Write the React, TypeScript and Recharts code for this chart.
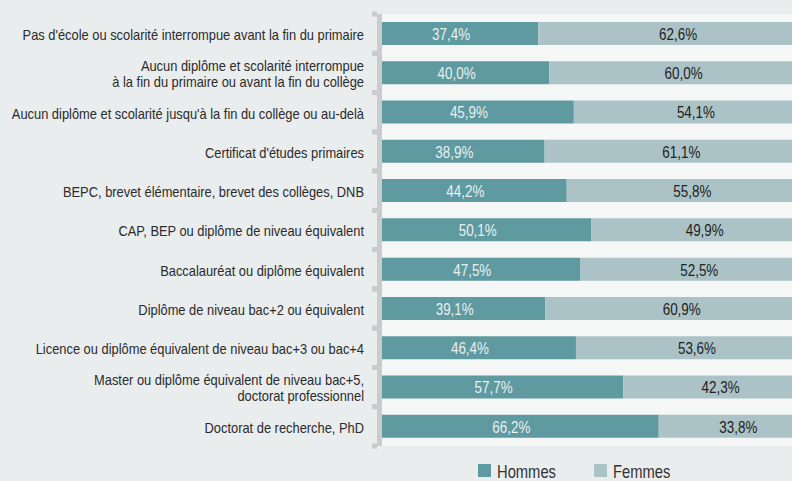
import React from 'react';
import { BarChart, Bar, XAxis, YAxis, CartesianGrid, LabelList } from 'recharts';

const categories = [
  "Pas d'école ou scolarité interrompue avant la fin du primaire",
  "Aucun diplôme et scolarité interrompue\nà la fin du primaire ou avant la fin du collège",
  "Aucun diplôme et scolarité jusqu'à la fin du collège ou au-delà",
  "Certificat d'études primaires",
  "BEPC, brevet élémentaire, brevet des collèges, DNB",
  "CAP, BEP ou diplôme de niveau équivalent",
  "Baccalauréat ou diplôme équivalent",
  "Diplôme de niveau bac+2 ou équivalent",
  "Licence ou diplôme équivalent de niveau bac+3 ou bac+4",
  "Master ou diplôme équivalent de niveau bac+5,\ndoctorat professionnel",
  "Doctorat de recherche, PhD",
];
const hommes = [37.4, 40.0, 45.9, 38.9, 44.2, 50.1, 47.5, 39.1, 46.4, 57.7, 66.2];
const femmes = [62.6, 60.0, 54.1, 61.1, 55.8, 49.9, 52.5, 60.9, 53.6, 42.3, 33.8];
const seriesNames = ['Hommes', 'Femmes'];

const data = categories.map((c, i) => ({ cat: c, hommes: hommes[i], femmes: femmes[i] }));

const FONT = "'Liberation Sans', Arial, sans-serif";
const NARROW = 0.82;
const TICK_NARROW = 0.87;
const C_H = '#5f9aa0';
const C_F = '#abc3c6';
const AXIS_C = '#c9cbcc';

const CHART_W = 800;
const CHART_H = 481;
const M_TOP = 14;
const M_BOTTOM = 35;
const Y_W = 382;
const BAND = (CHART_H - M_TOP - M_BOTTOM) / categories.length;

const fmt = (v: number) => v.toFixed(1).replace('.', ',') + '%';

const renderTick = (props: any) => {
  const { y, payload } = props;
  const lines = String(payload.value).split('\n');
  const lh = 16;
  const startY = y + 1 - ((lines.length - 1) * lh) / 2;
  const ax = Y_W - 5;
  return (
    <g>
      <rect x={ax} y={y - BAND / 2} width={5} height={BAND} fill={AXIS_C} />
      <rect x={ax - 5} y={y - BAND / 2 - 2.5} width={5} height={5} fill={AXIS_C} />
      <rect x={ax - 5} y={y + BAND / 2 - 2.5} width={5} height={5} fill={AXIS_C} />
      <g transform={`translate(364 ${startY}) scale(${TICK_NARROW} 1)`}>
        <text x={0} y={0} textAnchor="end" dominantBaseline="central" fill="#2b2b2b" fontSize={14.8} fontFamily={FONT}>
          {lines.map((l, i) => (
            <tspan key={i} x={0} dy={i === 0 ? 0 : lh}>{l}</tspan>
          ))}
        </text>
      </g>
    </g>
  );
};

const makeLabel = (color: string, dx: number) => (props: any) => {
  const { x, y, width, height, value } = props;
  const cx = x + width / 2 + dx;
  const cy = y + height / 2 + 1;
  return (
    <g transform={`translate(${cx} ${cy}) scale(0.84 1)`}>
      <text x={0} y={0} textAnchor="middle" dominantBaseline="central" fill={color} fontSize={16} fontFamily={FONT}>
        {fmt(value)}
      </text>
    </g>
  );
};

const legendPos = [478, 594];

export default function App() {
  return (
    <div style={{ position: 'absolute', left: 0, top: 0, width: 792, height: 481, overflow: 'hidden', background: '#e9edee' }}>
      <BarChart
        width={CHART_W}
        height={CHART_H}
        data={data}
        layout="vertical"
        margin={{ top: M_TOP, right: 0, bottom: M_BOTTOM, left: 0 }}
        barSize={23}
      >
        <CartesianGrid fill="#f5f6f6" horizontal={false} vertical={false} stroke="none" />
        <XAxis type="number" domain={[0, 100]} hide />
        <YAxis
          type="category"
          dataKey="cat"
          width={Y_W}
          axisLine={false}
          tickLine={false}
          tick={renderTick}
          interval={0}
        />
        <Bar dataKey="hommes" stackId="a" fill={C_H} isAnimationActive={false}>
          <LabelList dataKey="hommes" content={makeLabel('#e8f0f0', -9)} />
        </Bar>
        <Bar dataKey="femmes" stackId="a" fill={C_F} isAnimationActive={false}>
          <LabelList dataKey="femmes" content={makeLabel('#222222', 9)} />
        </Bar>
      </BarChart>
      <svg width={792} height={30} style={{ position: 'absolute', left: 0, top: 455 }}>
        {seriesNames.map((n, i) => (
          <g key={n}>
            <rect x={legendPos[i]} y={9} width={13} height={13} fill={i === 0 ? C_H : C_F} />
            <g transform={`translate(${legendPos[i] + 19} 16) scale(${NARROW} 1)`}>
              <text x={0} y={0} dominantBaseline="central" fill="#333" fontSize={18} fontFamily={FONT}>{n}</text>
            </g>
          </g>
        ))}
      </svg>
    </div>
  );
}
